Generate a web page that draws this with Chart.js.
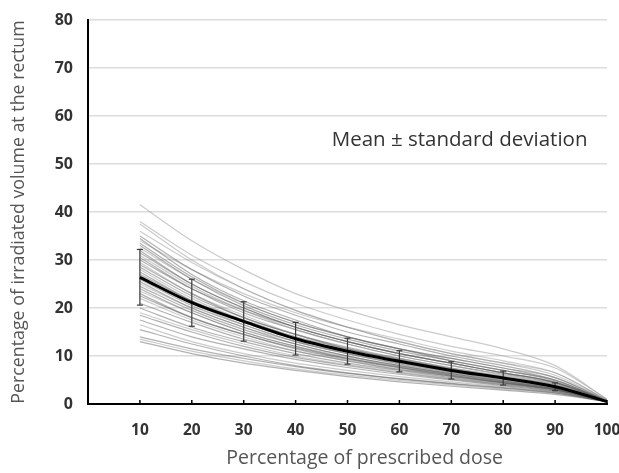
<!DOCTYPE html>
<html>
<head>
<meta charset="utf-8">
<script src="https://cdn.jsdelivr.net/npm/chart.js@4/dist/chart.umd.min.js"></script>
<style>
  html, body { margin: 0; padding: 0; background: #fff; }
  #wrap { width: 619px; height: 473px; position: relative; }
</style>
</head>
<body>
<div id="wrap"><canvas id="chart-dvh"></canvas></div>
<script>
// dose levels (% of prescribed dose)
const DOSES = [10, 20, 30, 40, 50, 60, 70, 80, 90, 100];

// mean curve and standard deviation (rectum volume %)
const MEAN = [26.4, 21.1, 17.2, 13.6, 11.0, 8.9, 7.0, 5.4, 3.6, 0.5];
const SD   = [5.8, 4.9, 4.1, 3.4, 2.7, 2.2, 1.8, 1.45, 0.8];

// individual patient DVH curves
const PATIENTS = [
  [41.5, 34, 28, 23, 19.5, 16.5, 14, 11.5, 8, 1],
  [38, 31, 25.5, 21, 17.5, 14.5, 12, 10, 7.5, 1],
  [37.5, 30, 24, 19.5, 16, 13, 10.5, 8.5, 6, 0.8],
  [36, 29.5, 24, 19.5, 16, 13, 10.5, 8.5, 6.5, 0.8],
  [35, 28, 22.5, 18.5, 15, 12.5, 10, 8, 5.5, 0.7],
  [34.5, 27, 21.5, 17.5, 14, 11.5, 9.5, 7.5, 5, 0.7],
  [34, 28, 23, 19, 16, 13.5, 11, 9, 6.5, 0.8],
  [33.5, 26.5, 21, 17, 14, 11.5, 9, 7, 5, 0.6],
  [33, 26, 20.5, 16.5, 13.5, 11, 9, 7, 4.8, 0.6],
  [32.5, 26, 21, 17, 14, 11.5, 9.5, 7.5, 5.5, 0.7],
  [32, 25, 20, 16, 13, 10.5, 8.5, 6.5, 4.5, 0.6],
  [31.5, 25, 20, 16, 13, 10.5, 8.5, 6.5, 4.5, 0.6],
  [31, 24.5, 19.5, 15.5, 12.5, 10, 8, 6, 4.2, 0.6],
  [30.5, 24, 19, 15.5, 12.5, 10, 8, 6.2, 4.3, 0.6],
  [30, 24, 19.5, 16, 13, 10.5, 8.5, 6.5, 4.5, 0.6],
  [29.5, 23, 18.5, 14.5, 11.5, 9.5, 7.5, 5.8, 4, 0.5],
  [29, 23, 18, 14.5, 11.5, 9.3, 7.3, 5.5, 3.8, 0.5],
  [28.5, 22.5, 18, 14.5, 11.8, 9.5, 7.5, 5.7, 4, 0.5],
  [28, 22, 17.5, 14, 11, 9, 7, 5.3, 3.6, 0.5],
  [27.5, 21.5, 17, 13.5, 11, 8.8, 7, 5.3, 3.6, 0.5],
  [27, 21.5, 17.5, 14, 11.5, 9.2, 7.3, 5.5, 3.7, 0.5],
  [26.5, 21, 16.5, 13, 10.5, 8.5, 6.7, 5, 3.4, 0.5],
  [26, 20.5, 16.5, 13, 10.5, 8.3, 6.5, 4.9, 3.3, 0.5],
  [25.5, 20, 16, 12.5, 10, 8, 6.3, 4.8, 3.2, 0.5],
  [25, 20, 16, 13, 10.5, 8.5, 6.7, 5, 3.4, 0.5],
  [24.5, 19.5, 15.5, 12.5, 10, 8, 6.3, 4.7, 3.2, 0.5],
  [24, 19, 15, 12, 9.5, 7.7, 6, 4.5, 3, 0.5],
  [23.5, 19, 15, 12, 9.8, 7.8, 6.2, 4.6, 3.1, 0.5],
  [23, 18, 14.5, 11.5, 9.3, 7.5, 5.8, 4.4, 3, 0.5],
  [22.5, 18, 14.5, 11.7, 9.5, 7.6, 6, 4.5, 3, 0.5],
  [22, 17.5, 14, 11, 9, 7.2, 5.7, 4.3, 2.9, 0.5],
  [21, 17, 13.5, 11, 9, 7.2, 5.8, 4.4, 3, 0.5],
  [20, 16, 13, 10.5, 8.5, 7, 5.5, 4.2, 2.9, 0.5],
  [19, 15.5, 12.5, 10, 8.2, 6.7, 5.3, 4, 2.8, 0.5],
  [18.5, 15, 12, 9.7, 8, 6.5, 5.2, 4, 2.7, 0.5],
  [17.5, 14, 11.5, 9.3, 7.6, 6.2, 5, 3.8, 2.6, 0.5],
  [16.5, 13, 10.5, 8.5, 7, 5.7, 4.6, 3.6, 2.5, 0.5],
  [15.5, 12.5, 10, 8, 6.5, 5.3, 4.3, 3.4, 2.4, 0.5],
  [14, 11.5, 9.5, 7.8, 6.4, 5.2, 4.2, 3.3, 2.3, 0.5],
  [13.5, 11, 9, 7.3, 6, 4.9, 4, 3.1, 2.2, 0.5],
  [13, 10.5, 8.5, 7, 5.7, 4.6, 3.7, 2.9, 2, 0.5]
];

const Y_TICKS = [0, 10, 20, 30, 40, 50, 60, 70, 80];
const X_TICKS = [10, 20, 30, 40, 50, 60, 70, 80, 90, 100];

const pts = vals => vals.map((v, i) => ({ x: DOSES[i], y: v }));

const datasets = [];

PATIENTS.forEach((p, i) => {
  const light = (i % 3 === 0) || i < 3;
  datasets.push({
    data: pts(p),
    borderColor: light ? 'rgba(140,140,140,0.45)' : 'rgba(85,85,85,0.45)',
    borderWidth: 1.2,
    pointRadius: 0,
    cubicInterpolationMode: 'monotone',
    fill: false,
    order: 3
  });
});

SD.forEach((s, i) => {
  datasets.push({
    data: [{ x: DOSES[i], y: MEAN[i] - s }, { x: DOSES[i], y: MEAN[i] + s }],
    borderColor: '#3a3a3a',
    borderWidth: 1.2,
    pointStyle: 'line',
    pointRadius: 3,
    pointBorderColor: '#3a3a3a',
    pointBorderWidth: 1.2,
    fill: false,
    order: 2
  });
});

datasets.push({
  data: pts(MEAN),
  borderColor: '#000',
  borderWidth: 3,
  pointRadius: 0,
  cubicInterpolationMode: 'monotone',
  fill: false,
  order: 1
});

const extras = {
  id: 'extras',
  afterDraw(chart) {
    const { ctx, scales: { x, y } } = chart;
    ctx.save();
    // small tick marks inside the x axis
    ctx.strokeStyle = '#000';
    ctx.lineWidth = 1.5;
    X_TICKS.forEach(t => {
      const px = x.getPixelForValue(t);
      ctx.beginPath();
      ctx.moveTo(px, y.bottom);
      ctx.lineTo(px, y.bottom - 4);
      ctx.stroke();
    });
    ctx.fillStyle = '#333';
    ctx.font = "20.5px 'Open Sans', sans-serif";
    ctx.textAlign = 'center';
    ctx.textBaseline = 'middle';
    ctx.fillText('Mean \u00B1 standard deviation', x.getPixelForValue(71.6), y.getPixelForValue(55));
    // x axis title, sits a little right of the plot centre
    ctx.fillStyle = '#555';
    ctx.font = "19.5px 'Open Sans', sans-serif";
    ctx.fillText('Percentage of prescribed dose', x.getPixelForValue(53.3), 458);
    ctx.restore();
  }
};

new Chart(document.getElementById('chart-dvh'), {
  type: 'line',
  data: { datasets },
  plugins: [extras],
  options: {
    responsive: true, maintainAspectRatio: false,
    animation: false,
    layout: { padding: { left: 0, right: 12, top: 20, bottom: 0 } },
    plugins: { legend: { display: false }, tooltip: { enabled: false } },
    scales: {
      x: {
        type: 'linear', min: 0, max: 100,
        afterBuildTicks: s => { s.ticks = X_TICKS.map(v => ({ value: v })); },
        afterFit: s => { s.height = 69; s.paddingRight = 0; s.paddingLeft = 0; },
        grid: { display: false },
        border: { color: '#000', width: 2 },
        ticks: { color: '#333', font: { family: "'Open Sans', sans-serif", size: 15.5, weight: 'bold' }, padding: 9, maxRotation: 0 },
        title: { display: false }
      },
      y: {
        min: 0, max: 80,
        afterBuildTicks: s => { s.ticks = Y_TICKS.map(v => ({ value: v })); },
        afterFit: s => { s.width = 88; s.paddingTop = 0; s.paddingBottom = 0; },
        grid: { color: '#dcdcdc', lineWidth: 1.5, drawTicks: false },
        border: { color: '#000', width: 2 },
        ticks: { color: '#333', font: { family: "'Open Sans', sans-serif", size: 16, weight: 'bold' }, padding: 15 },
        title: { display: true, text: 'Percentage of irradiated volume at the rectum', color: '#555',
                 font: { family: "'Open Sans', sans-serif", size: 17.8 }, padding: { top: 8, bottom: 2 } }
      }
    }
  }
});
</script>
</body>
</html>
